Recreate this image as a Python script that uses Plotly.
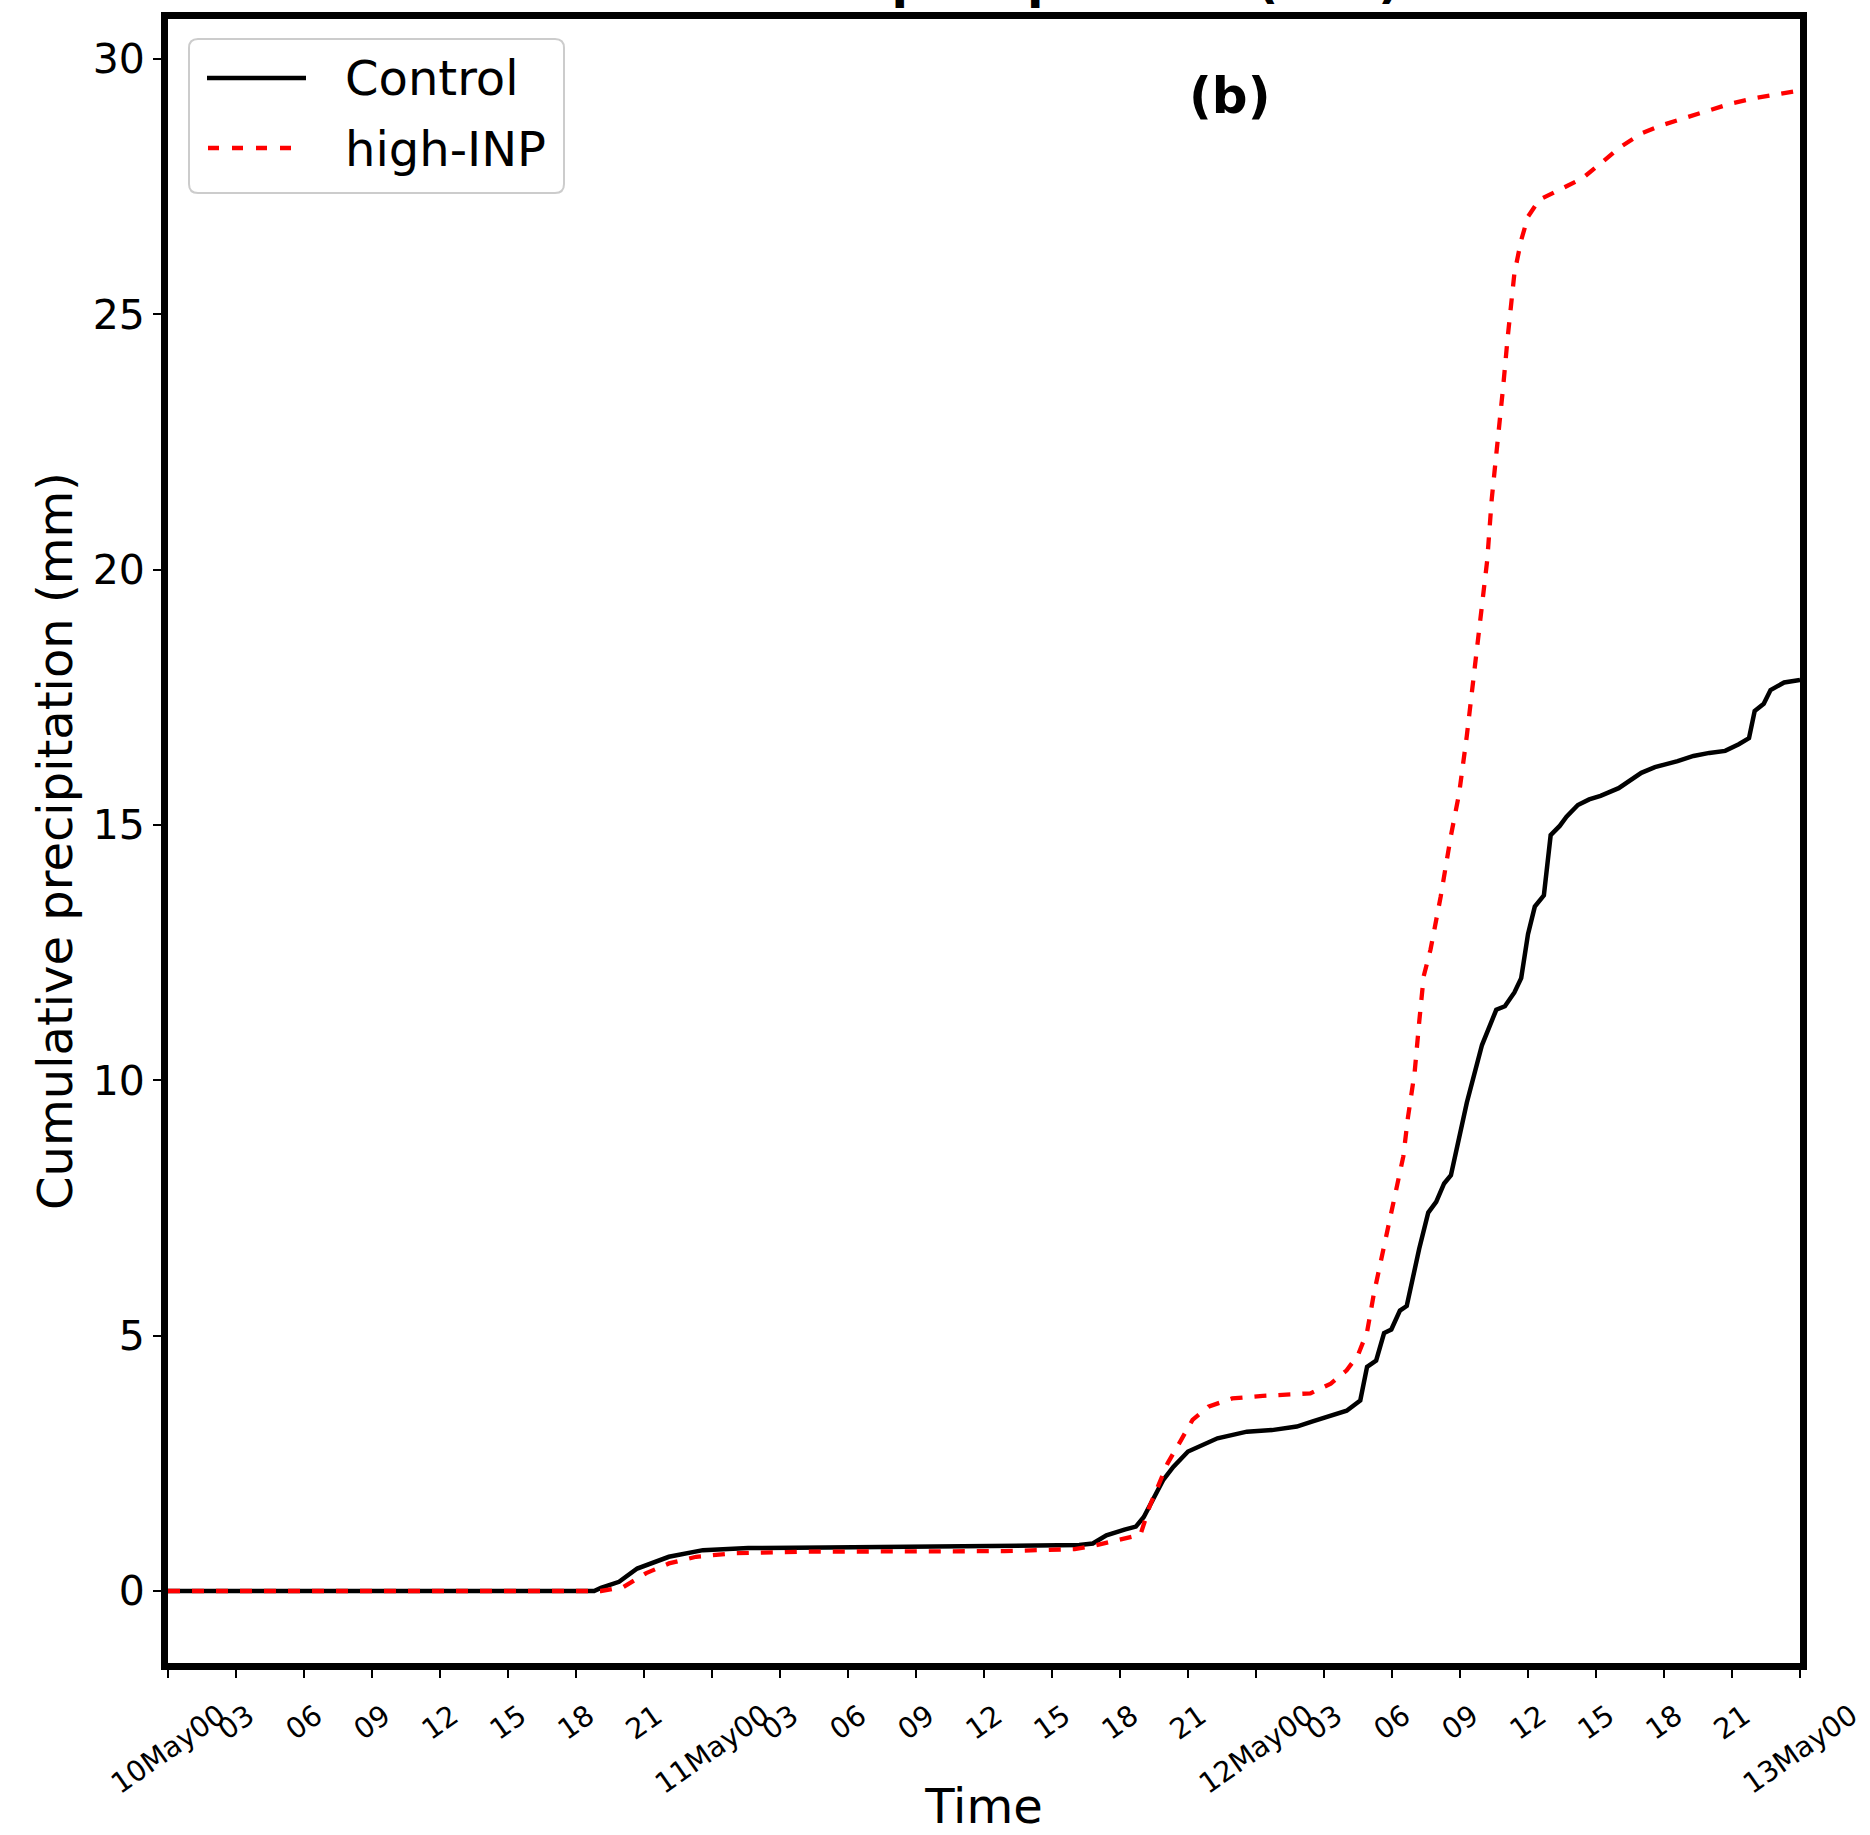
import plotly.graph_objects as go

# ---------------- data (hours since 10 May 00 UTC, cumulative precipitation in mm) ----------------
ctrl_hours = [0, 18.8, 19.1, 19.9, 20.7, 22.1, 23.6, 25.6, 29.0, 36.9, 40.2, 40.8, 41.4, 42.2, 42.7,
              43.05, 43.4, 43.9, 44.35, 45.0, 46.3, 47.6, 48.7, 49.8, 50.5, 51.3, 52.0, 52.6, 52.9,
              53.3, 53.65, 53.97, 54.35, 54.65, 55.2, 55.6, 55.95, 56.3, 56.6, 57.3, 57.97, 58.6,
              58.98, 59.4, 59.7, 60.0, 60.3, 60.7, 61.0, 61.4, 61.7, 62.2, 62.7, 63.2, 64.0, 65.0,
              65.6, 66.6, 67.3, 68.0, 68.7, 69.3, 69.75, 70.0, 70.4, 70.7, 71.3, 72.0]
ctrl_mm = [0, 0, 0.06, 0.18, 0.44, 0.67, 0.80, 0.84, 0.85, 0.87, 0.90, 0.93, 1.09, 1.20, 1.26,
           1.45, 1.74, 2.17, 2.43, 2.73, 2.99, 3.12, 3.15, 3.22, 3.32, 3.42, 3.53, 3.73, 4.39,
           4.51, 5.05, 5.12, 5.49, 5.58, 6.70, 7.41, 7.62, 7.98, 8.14, 9.56, 10.69, 11.38,
           11.45, 11.72, 12.00, 12.86, 13.40, 13.62, 14.80, 14.98, 15.16, 15.39, 15.50, 15.57, 15.72, 16.02,
           16.13, 16.25, 16.35, 16.41, 16.45, 16.58, 16.70, 17.23, 17.37, 17.64, 17.79, 17.84]

inp_hours = [0, 19.1, 20.1, 21.1, 22.1, 23.3, 25.0, 28.0, 36.9, 40.0, 40.8, 42.0, 42.9, 43.3, 43.7,
             44.1, 44.7, 45.2, 45.9, 46.95, 48.3, 50.4, 51.3, 52.0, 52.5, 52.9, 53.2, 53.5, 53.8,
             54.15, 54.5, 54.7, 55.0, 55.2, 55.4, 55.7, 55.9, 56.15, 56.6, 56.96, 57.3, 57.6, 57.9,
             58.2, 58.4, 58.65, 58.9, 59.1, 59.3, 59.4, 59.7, 60.0, 60.5, 61.4, 62.4, 63.2, 64.0,
             65.0, 65.9, 66.9, 68.0, 69.0, 70.0, 71.5, 72.0]
inp_mm = [0, 0, 0.08, 0.35, 0.54, 0.67, 0.74, 0.77, 0.78, 0.82, 0.88, 1.00, 1.10, 1.65, 2.08,
          2.50, 2.96, 3.35, 3.61, 3.77, 3.82, 3.87, 4.06, 4.32, 4.62, 5.07, 5.82, 6.42, 7.02,
          7.77, 8.51, 9.26, 10.16, 11.14, 12.04, 12.56, 13.01, 13.60, 14.79, 15.61, 16.74, 17.94, 19.13,
          20.18, 21.38, 22.43, 23.56, 24.53, 25.28, 25.80, 26.45, 26.91, 27.24, 27.43, 27.66, 27.95, 28.25,
          28.54, 28.70, 28.84, 29.00, 29.13, 29.23, 29.34, 29.38]

series_names = ["Control", "high-INP"]
series_colors = ["black", "red"]

x_tickvals = list(range(0, 73, 3))
x_ticktext = ["10May00", "03", "06", "09", "12", "15", "18", "21",
              "11May00", "03", "06", "09", "12", "15", "18", "21",
              "12May00", "03", "06", "09", "12", "15", "18", "21",
              "13May00"]
y_tickvals = [0, 5, 10, 15, 20, 25, 30]

title_text = "Cumulative precipitation (mm)"
ylabel_text = "Cumulative precipitation (mm)"
xlabel_text = "Time"
panel_text = "(b)"

# ---------------- layout geometry (pixels) ----------------
W, H = 1870, 1835
L, R, T, B = 168, 70, 19, 172
PW, PH = W - L - R, H - T - B
FONT = "DejaVu Sans"


def pxx(X):
    return (X - L) / PW


def pxy(Y):
    return (H - B - Y) / PH


fig = go.Figure()
fig.add_trace(go.Scatter(x=ctrl_hours, y=ctrl_mm, mode="lines", name=series_names[0],
                         line=dict(color=series_colors[0], width=4.5)))
fig.add_trace(go.Scatter(x=inp_hours, y=inp_mm, mode="lines", name=series_names[1],
                         line=dict(color=series_colors[1], width=4.3, dash="12px,12px")))

fig.update_layout(
    width=W, height=H,
    margin=dict(l=L, r=R, t=T, b=B, autoexpand=False),
    plot_bgcolor="white", paper_bgcolor="white",
    showlegend=False,
    font=dict(family=FONT, color="black"),
)

fig.update_xaxes(
    range=[0, 72], tickvals=x_tickvals, showticklabels=False,
    ticks="outside", ticklen=8, tickwidth=2, tickcolor="black",
    showline=True, linewidth=7, linecolor="black", mirror=True,
    showgrid=False, zeroline=False,
    title=dict(text=xlabel_text, font=dict(size=48, family=FONT), standoff=115),
)
fig.update_yaxes(
    range=[-1.41, 30.78], tickvals=y_tickvals,
    tickfont=dict(size=41, family=FONT),
    ticks="outside", ticklen=8, tickwidth=2, tickcolor="black",
    showline=True, linewidth=7, linecolor="black", mirror=True,
    showgrid=False, zeroline=False,
    title=dict(text=ylabel_text, font=dict(size=48, family=FONT), standoff=7),
)

annotations = []
# rotated, centred date tick labels
for v, t in zip(x_tickvals, x_ticktext):
    annotations.append(dict(x=v, xref="x", y=0, yref="paper", text=t, showarrow=False,
                            textangle=-35, xanchor="center", yanchor="top", yshift=-33,
                            font=dict(size=28.5, family=FONT, color="black")))
# title (cut off at the top of the image, as in the original)
annotations.append(dict(x=0.5, xref="paper", y=1, yref="paper", text="<b>" + title_text + "</b>",
                        showarrow=False, xanchor="center", yanchor="bottom", yshift=8,
                        font=dict(size=48, family=FONT, color="black")))
# panel label
annotations.append(dict(x=pxx(1230), xref="paper", y=pxy(96), yref="paper", text="<b>" + panel_text + "</b>",
                        showarrow=False, xanchor="center", yanchor="middle",
                        font=dict(size=50, family=FONT, color="black")))
# legend labels
annotations.append(dict(x=pxx(343), xref="paper", y=pxy(78), yref="paper", text=series_names[0],
                        showarrow=False, xanchor="left", yanchor="middle",
                        font=dict(size=48, family=FONT, color="black")))
annotations.append(dict(x=pxx(343), xref="paper", y=pxy(149), yref="paper", text=series_names[1],
                        showarrow=False, xanchor="left", yanchor="middle",
                        font=dict(size=48, family=FONT, color="black")))

# legend frame (rounded) and samples
x0, x1, y0, y1, r = 189, 564, 39, 193, 9
rx, ry = r / PW, r / PH
X0, X1, Y0, Y1 = pxx(x0), pxx(x1), pxy(y0), pxy(y1)
path = (f"M {X0+rx},{Y0} L {X1-rx},{Y0} Q {X1},{Y0} {X1},{Y0-ry} L {X1},{Y1+ry} "
        f"Q {X1},{Y1} {X1-rx},{Y1} L {X0+rx},{Y1} Q {X0},{Y1} {X0},{Y1+ry} L {X0},{Y0-ry} "
        f"Q {X0},{Y0} {X0+rx},{Y0} Z")
shapes = [
    dict(type="path", path=path, xref="paper", yref="paper",
         line=dict(color="#cccccc", width=2), fillcolor="rgba(255,255,255,0.8)", layer="above"),
    dict(type="line", xref="paper", yref="paper", x0=pxx(207), x1=pxx(306), y0=pxy(78), y1=pxy(78),
         line=dict(color=series_colors[0], width=4.5), layer="above"),
    dict(type="line", xref="paper", yref="paper", x0=pxx(208), x1=pxx(303), y0=pxy(148), y1=pxy(148),
         line=dict(color=series_colors[1], width=4.5, dash="11px,13px"), layer="above"),
]

fig.update_layout(annotations=annotations, shapes=shapes)
# remove the browser's default 8px page margin so the figure sits at the window origin
fig.write_html("out.html", config={"displayModeBar": False},
               post_script="document.body.style.margin='0px';")
